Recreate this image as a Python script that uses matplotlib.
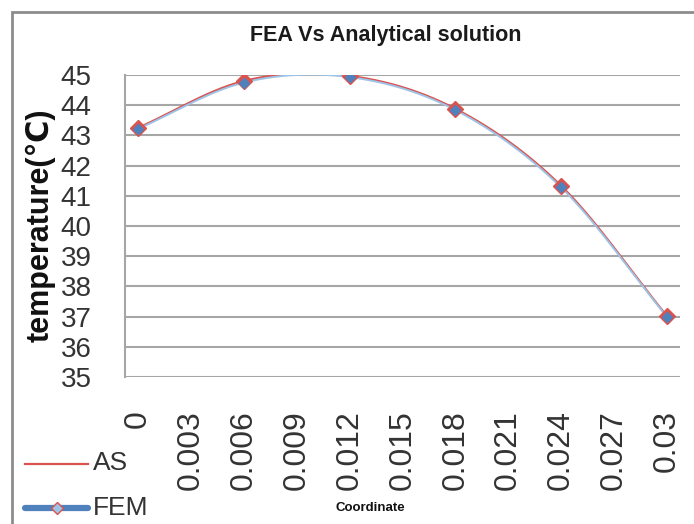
import numpy as np
import matplotlib
matplotlib.use("Agg")
import matplotlib.pyplot as plt
from matplotlib.patches import Rectangle
from matplotlib.lines import Line2D

# ---- data ----
coord = [0.0, 0.006, 0.012, 0.018, 0.024, 0.03]
as_temp = [43.25, 44.80, 44.97, 43.88, 41.33, 37.02]
fem_temp = [43.22, 44.75, 44.93, 43.84, 41.28, 37.00]
xtick_vals = [0.0, 0.003, 0.006, 0.009, 0.012, 0.015, 0.018, 0.021, 0.024, 0.027, 0.03]
xtick_labels = ["0", "0.003", "0.006", "0.009", "0.012", "0.015", "0.018",
                "0.021", "0.024", "0.027", "0.03"]
ytick_vals = list(range(35, 46))

FONT = ["Liberation Sans", "DejaVu Sans"]
plt.rcParams["font.family"] = FONT


def smooth(xs, ys, n=30):
    """Catmull-Rom rendering of a smoothed line (like Excel's smoothed line)."""
    xs = np.asarray(xs, float)
    ys = np.asarray(ys, float)
    px = np.concatenate([[2 * xs[0] - xs[1]], xs, [2 * xs[-1] - xs[-2]]])
    py = np.concatenate([[2 * ys[0] - ys[1]], ys, [2 * ys[-1] - ys[-2]]])
    outx, outy = [], []
    t = np.linspace(0, 1, n)
    for i in range(1, len(px) - 2):
        for arr, out in ((px, outx), (py, outy)):
            p0, p1, p2, p3 = arr[i - 1], arr[i], arr[i + 1], arr[i + 2]
            seg = 0.5 * ((2 * p1) + (-p0 + p2) * t +
                         (2 * p0 - 5 * p1 + 4 * p2 - p3) * t ** 2 +
                         (-p0 + 3 * p1 - 3 * p2 + p3) * t ** 3)
            out.extend(seg)
    return np.array(outx), np.array(outy)


W, H = 694, 524
fig = plt.figure(figsize=(W / 100, H / 100), dpi=100)

# outer chart frame
fig.patches.append(Rectangle((12 / W, -0.05), 1.0, (H - 12) / H + 0.05,
                             transform=fig.transFigure, fill=False,
                             edgecolor="#8c8c8c", linewidth=2.0))

ax = fig.add_axes([125 / W, 1 - 377 / H, (680 - 125) / W, (377 - 75) / H])

red = "#D9534F"
blue = "#4F81BD"
lightblue = "#9DC3E6"

sx, sy = smooth(coord, as_temp)
ax.plot(sx, sy, color=red, lw=1.6, zorder=3)
ax.plot(coord, as_temp, ls="none", marker="D", ms=8, color=red, zorder=4)
fx, fy = smooth(coord, fem_temp)
ax.plot(fx, fy, color=lightblue, lw=1.4, zorder=3)
ax.plot(coord, fem_temp, ls="none", marker="D", ms=5.5, color=blue, zorder=5)

ax.set_xlim(-0.00075, 0.03075)
ax.set_ylim(35, 45)
ax.set_yticks(ytick_vals)
ax.set_yticklabels([str(v) for v in ytick_vals], fontsize=20, color="#333333")
ax.set_xticks(xtick_vals)
ax.set_xticklabels(xtick_labels, rotation=90, fontsize=23, color="#333333",
                   va="top")
ax.tick_params(axis="y", length=0, pad=24)
ax.tick_params(axis="x", length=0, pad=24)
ax.grid(axis="y", color="#a6a6a6", lw=1.5)
ax.set_axisbelow(True)
for s in ["top", "right", "bottom"]:
    ax.spines[s].set_visible(False)
ax.spines["left"].set_color("#a6a6a6")
ax.spines["left"].set_linewidth(1.5)

fig.text(386 / W, 1 - 35 / H, "FEA Vs Analytical solution", ha="center",
         va="center", fontsize=15.5, fontweight="bold", color="#1a1a1a")
fig.text(41 / W, 1 - 225 / H, "temperature(℃)", rotation=90, ha="center",
         va="center", fontsize=22, fontweight="bold", color="#111111")
fig.text(370 / W, 1 - 508 / H, "Coordinate", ha="center", va="center",
         fontsize=9.5, fontweight="bold", color="#111111")

# legend
fig.lines.append(Line2D([25 / W, 88 / W], [1 - 464 / H, 1 - 464 / H],
                        transform=fig.transFigure, color=red, lw=1.6))
fig.lines.append(Line2D([25 / W, 88 / W], [1 - 508 / H, 1 - 508 / H],
                        transform=fig.transFigure, color=blue, lw=4.5,
                        solid_capstyle="round"))
fig.lines.append(Line2D([57 / W], [1 - 508 / H], transform=fig.transFigure,
                        marker="D", ms=6, markerfacecolor="#9DC3E6",
                        markeredgecolor=red, ls="none"))
fig.text(93 / W, 1 - 463 / H, "AS", ha="left", va="center", fontsize=19,
         color="#333333")
fig.text(93 / W, 1 - 508 / H, "FEM", ha="left", va="center", fontsize=19,
         color="#333333")

fig.savefig("out.png", dpi=100)
